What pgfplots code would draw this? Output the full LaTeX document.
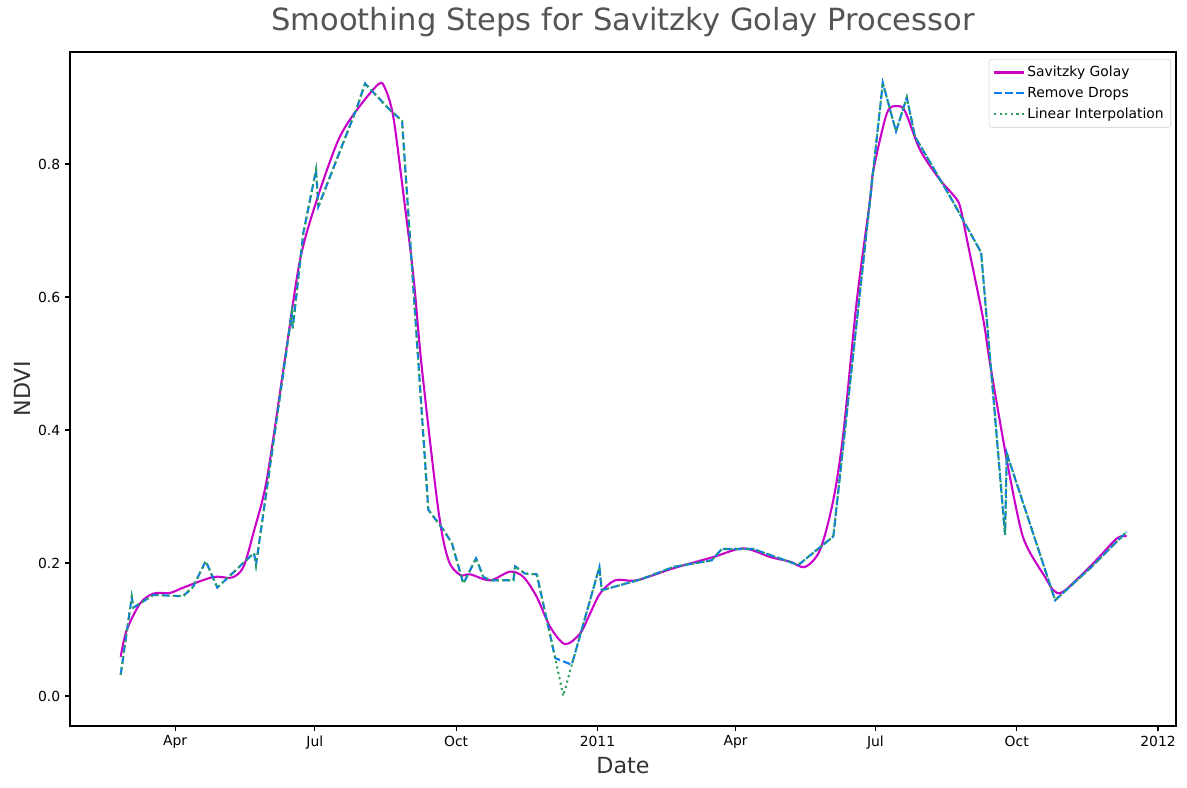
\documentclass[border=0pt]{standalone}
\usepackage{fontspec}
\setmainfont{DejaVu Sans}
\usepackage{pgfplots}
\pgfplotsset{compat=1.18}
\definecolor{sgcol}{RGB}{200,0,200}
\definecolor{rdcol}{RGB}{10,122,240}
\definecolor{licol}{RGB}{44,160,90}
\definecolor{titlecol}{RGB}{85,85,85}
\definecolor{labcol}{RGB}{51,51,51}
\begin{document}
\begin{tikzpicture}
\path[use as bounding box] (0,0) rectangle (854.64pt,567.36pt);
\begin{axis}[
  at={(50.4pt,44.64pt)}, anchor=south west,
  scale only axis, width=796.32pt, height=485.28pt,
  xmin=21.6, xmax=741.7, ymin=-0.0451, ymax=0.9684,
  axis line style={line width=0.8pt},
  every tick/.style={black, line width=0.8pt},
  tick align=outside, major tick length=3.5pt,
  xtick pos=bottom, ytick pos=left,
  xtick={90,181,273,365,455,546,638,730},
  xticklabels={Apr,Jul,Oct,2011,Apr,Jul,Oct,2012},
  ytick={0,0.2,0.4,0.6,0.8},
  yticklabels={0.0,0.2,0.4,0.6,0.8},
  tick label style={font=\fontsize{10}{12}\selectfont},
  /pgf/number format/assume math mode=true,
  title={Smoothing Steps for Savitzky Golay Processor},
  title style={at={(0.5,1)}, anchor=center, yshift=15.6pt, text=titlecol, font=\fontsize{22}{26}\selectfont},
  xlabel={Date}, ylabel={NDVI},
  xlabel style={at={(axis description cs:0.5,0)}, anchor=center, yshift=-28.8pt, text=labcol, font=\fontsize{16}{19}\selectfont},
  ylabel style={at={(axis description cs:0,0.5)}, anchor=center, yshift=34.6pt, text=labcol, font=\fontsize{16}{19}\selectfont},
  legend cell align=left,
  legend style={at={(rel axis cs:1,1)}, anchor=north east, xshift=-3.6pt, yshift=-5pt,
    draw=black!20, rounded corners=2pt, font=\fontsize{10}{12}\selectfont,
    inner xsep=3pt, inner ysep=3pt, row sep=2pt},
  legend image code/.code={\draw[#1] (0pt,0pt) -- (21pt,0pt);},
]
\addplot[sgcol, line width=1.5pt, smooth, tension=0.5] coordinates {
(54.6,0.059) (58.5,0.099) (67.2,0.139) (75.9,0.154) (86.7,0.155) (95.4,0.163)
(114.9,0.179) (126.9,0.178) (134.5,0.194) (141.0,0.245) (149.7,0.325)
(161.6,0.508) (171.4,0.656) (182.3,0.746) (196.3,0.836) (208.3,0.881)
(222.4,0.920) (226.7,0.914) (232.1,0.871) (238.6,0.756) (245.2,0.631)
(250.6,0.495) (261.4,0.280) (267.9,0.205) (275.6,0.182) (282.1,0.183)
(295.1,0.174) (308.1,0.187) (316.8,0.179) (325.5,0.149) (334.2,0.104)
(343.9,0.078) (353.7,0.094) (360.2,0.124) (366.7,0.154) (376.5,0.174)
(390.6,0.174) (414.4,0.192) (440.5,0.209) (460.0,0.222) (477.4,0.209)
(490.4,0.202) (500.2,0.194) (510.0,0.220) (518.6,0.295) (525.1,0.395)
(533.9,0.595) (542.5,0.746) (544.7,0.791) (553.4,0.876) (559.9,0.887)
(565.3,0.879) (575.1,0.821) (588.1,0.776) (596.8,0.753) (601.1,0.736)
(606.5,0.676) (616.3,0.565) (620.6,0.500) (631.5,0.355) (640.2,0.255)
(645.6,0.220) (656.4,0.179) (661.9,0.159) (668.4,0.157) (688.0,0.200)
(703.2,0.237) (709.6,0.240)
};
\addlegendentry{Savitzky Golay}
\addplot[rdcol, line width=1.5pt, dash pattern=on 5.55pt off 2.4pt] coordinates {
(54.6,0.032) (61.8,0.149) (62.9,0.133) (75.9,0.152) (95.2,0.150) (101.7,0.164)
(110.0,0.203) (117.5,0.163) (136.7,0.205) (141.4,0.215) (142.7,0.197)
(166.0,0.576) (166.6,0.553) (173.5,0.696) (181.8,0.791) (183.3,0.736)
(208.3,0.884) (213.7,0.921) (230.0,0.881) (237.8,0.865) (254.9,0.280)
(264.7,0.250) (270.2,0.230) (277.7,0.169) (286.0,0.207) (290.7,0.179)
(295.1,0.174) (310.3,0.174) (311.4,0.195) (317.9,0.184) (325.5,0.183)
(337.5,0.057) (348.3,0.047) (366.3,0.194) (367.8,0.159) (392.8,0.175)
(414.4,0.194) (439.4,0.204) (445.9,0.221) (466.5,0.221) (495.8,0.197)
(518.6,0.240) (550.8,0.922) (559.4,0.849) (566.4,0.900) (571.8,0.841)
(594.6,0.751) (614.8,0.667) (630.4,0.242) (631.5,0.365) (663.0,0.144)
(685.7,0.192) (709.6,0.247)
};
\addlegendentry{Remove Drops}
\addplot[licol, line width=1.5pt, dash pattern=on 1.5pt off 2.475pt] coordinates {
(54.6,0.032) (61.8,0.149) (62.9,0.133) (75.9,0.152) (95.2,0.150) (101.7,0.164)
(110.0,0.203) (117.5,0.163) (136.7,0.205) (141.4,0.215) (142.7,0.197)
(166.0,0.576) (166.6,0.553) (173.5,0.696) (181.8,0.791) (183.3,0.736)
(208.3,0.884) (213.7,0.921) (230.0,0.881) (237.8,0.865) (254.9,0.280)
(264.7,0.250) (270.2,0.230) (277.7,0.169) (286.0,0.207) (290.7,0.179)
(295.1,0.174) (310.3,0.174) (311.4,0.195) (317.9,0.184) (325.5,0.183)
(337.5,0.057) (342.8,0.000) (348.3,0.047) (366.3,0.194) (367.8,0.159) (392.8,0.175)
(414.4,0.194) (439.4,0.204) (445.9,0.221) (466.5,0.221) (495.8,0.197)
(518.6,0.240) (550.8,0.922) (559.4,0.849) (566.4,0.900) (571.8,0.841)
(594.6,0.751) (614.8,0.667) (630.4,0.242) (631.5,0.365) (663.0,0.144)
(685.7,0.192) (709.6,0.247)
};
\addlegendentry{Linear Interpolation}
\end{axis}
\end{tikzpicture}
\end{document}
